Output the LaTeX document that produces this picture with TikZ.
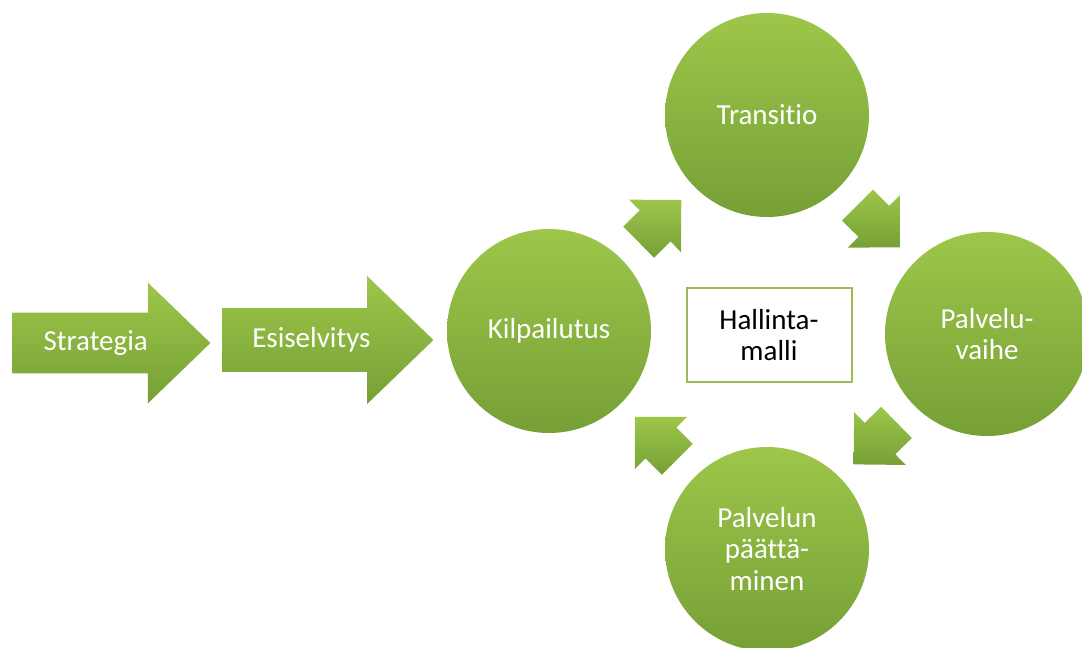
\documentclass[tikz,border=0pt]{standalone}
\usepackage{fontspec}
\setmainfont{Carlito}[Ligatures=NoCommon]
\usetikzlibrary{shapes.arrows,calc}
\definecolor{leaflight}{HTML}{9DC64A}
\definecolor{leafdark}{HTML}{76A036}
\definecolor{boxline}{HTML}{9BBB59}

\begin{document}
\begin{tikzpicture}[x=0.5pt,y=-0.5pt,
  label font/.style={font=\fontsize{14.5}{15.8}\selectfont},
  phase/.style={circle,minimum size=102pt,inner sep=0pt,top color=leaflight,bottom color=leafdark,text=white,align=center,label font},
  bigarrow/.style={single arrow,single arrow tip angle=88,inner xsep=0pt,text height=10pt,text depth=3pt,top color=leaflight,bottom color=leafdark,text=white,label font,anchor=tail},
  turn/.style={single arrow,minimum height=30pt,minimum width=36.5pt,inner xsep=0pt,inner ysep=10.75pt,single arrow head extend=7.5pt,single arrow tip angle=90,top color=leaflight,bottom color=leafdark,pos=0.42,sloped,allow upside down}]
  \clip (0,0) rectangle (1082,648);
  \useasboundingbox (0,0) rectangle (1082,648);

  % lead-in arrows
  \node[bigarrow,inner ysep=8.5pt,minimum height=99pt,minimum width=60pt,single arrow head extend=15pt] (strat) at (12,343) {Strategia};
  \node[bigarrow,inner ysep=9.25pt,minimum height=105.5pt,minimum width=63.5pt,single arrow head extend=16pt] (esis) at (222,340) {Esiselvitys};

  % the cycle
  \node[phase] (kilp) at (549,331) {Kilpailutus};
  \node[phase] (trans) at (767,115) {Transitio};
  \node[phase] (vaihe) at (987,334) {Palvelu-\\vaihe};
  \node[phase] (paatt) at (767,549) {Palvelun\\päättä-\\minen};
  \node[draw=boxline,line width=1pt,minimum width=82.5pt,minimum height=47pt,align=center,label font] (hall) at (769,335) {Hallinta-\\malli};

  \path (kilp) -- node[turn] (k2t) {} (trans);
  \path (trans) -- node[turn] (t2v) {} (vaihe);
  \path (vaihe) -- node[turn] (v2p) {} (paatt);
  \path (paatt) -- node[turn] (p2k) {} (kilp);
\end{tikzpicture}
\end{document}
